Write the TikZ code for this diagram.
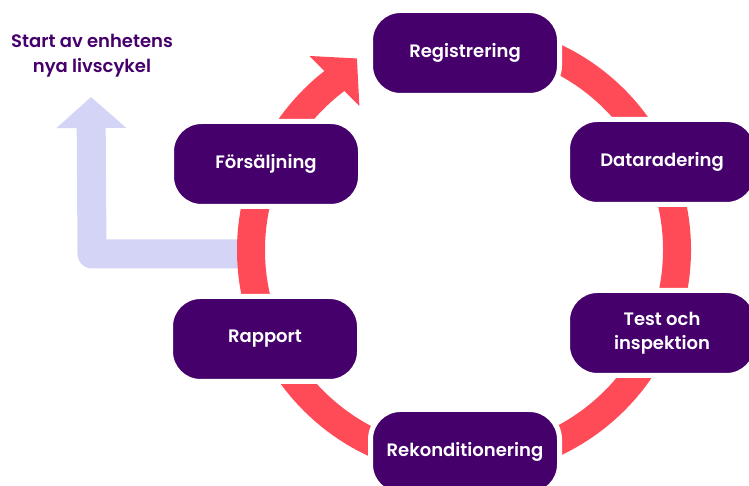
\documentclass[tikz,border=0pt]{standalone}
\usepackage{fontspec}
\setmainfont{Poppins}[BoldFont={Poppins SemiBold}]
\usetikzlibrary{arrows.meta}
\definecolor{lilac}{HTML}{45006B}
\definecolor{coral}{HTML}{FF4B57}
\definecolor{lavender}{HTML}{D4D4F7}
\begin{document}
\begin{tikzpicture}[x=1pt,y=1pt,
	stage/.style={fill=lilac, draw=white, line width=5pt, rounded corners=30pt,
		minimum width=189pt, minimum height=85pt, text=white, align=center,
		font=\fontsize{18}{24}\selectfont\bfseries},
	note/.style={text=lilac, align=center, font=\fontsize{18}{25}\selectfont\bfseries}]
		\useasboundingbox (0,0) rectangle (749,486);
		\def\r{213}
		\coordinate (C) at (464,236);
		\coordinate (A0) at (252,232);
		\coordinate (A1) at (92,232);
		\coordinate (A2) at (91,389);
		\draw[lavender, line width=29pt, line join=round, -{Triangle[width=68pt,length=31pt]}] (A0) -- (A1) -- (A2);
		\draw[coral, line width=28pt, -{Triangle[width=69pt,length=32pt]}] ([shift={(85:\r)}]C) arc[start angle=85, end angle=-232.5, radius=\r] -- ++(45:32);
		\node[stage] (reg) at (465,433) {Registrering};
		\node[stage] (data) at (662,324) {Dataradering};
		\node[stage] (test) at (662,153) {Test och\\inspektion};
		\node[stage] (rek) at (465,34) {Rekonditionering};
		\node[stage] (rap) at (265,147) {Rapport};
		\node[stage] (fors) at (266,322) {Försäljning};
		\node[note] (start) at (92,430) {Start av enhetens\\nya livscykel};
		\end{tikzpicture}
\end{document}
